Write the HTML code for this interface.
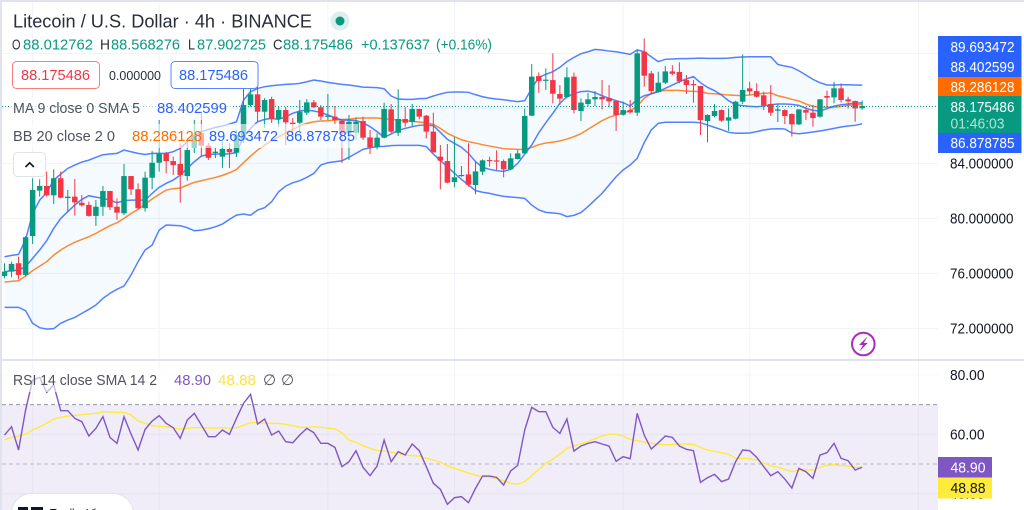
<!DOCTYPE html>
<html lang="en">
<head>
<meta charset="utf-8">
<title>Litecoin / U.S. Dollar chart</title>
<style>
html,body{margin:0;padding:0;background:#fff;width:1024px;height:510px;overflow:hidden}
svg{display:block;position:absolute;left:0;top:0;filter:blur(0.35px)}
text{font-family:"Liberation Sans",sans-serif}
</style>
</head>
<body>
<svg id="chart" width="1024" height="510" viewBox="0 0 1024 510" xmlns="http://www.w3.org/2000/svg">
  <defs>
    <clipPath id="mainClip"><rect x="2" y="2" width="936" height="357"/></clipPath>
    <clipPath id="rsiClip"><rect x="2" y="361" width="936" height="149"/></clipPath>
  </defs>
  <rect x="0" y="0" width="1024" height="510" fill="#ffffff"/>
  <g id="gridLayer"></g>
  <rect id="rsiBand" x="2" y="404" width="936" height="106" fill="#f0ecf8"/>
  <g id="rsiGridLayer"></g>
  <g id="mainLayer" clip-path="url(#mainClip)"></g>
  <g id="rsiLayer" clip-path="url(#rsiClip)"></g>

  <rect x="0" y="0" width="2" height="510" fill="#e0e3eb"/>
  <rect x="0" y="0" width="1024" height="2" fill="#e0e3eb"/>
  <rect x="0" y="359" width="1024" height="2" fill="#e0e3eb"/>

  <!-- legend fades -->
  <rect x="11" y="98" width="220" height="22" fill="#ffffff" fill-opacity="0.6"/>
  <rect x="11" y="124" width="347" height="24" fill="#ffffff" fill-opacity="0.6"/>
  <rect x="11" y="368" width="282" height="24" fill="#ffffff" fill-opacity="0.6"/>

  <!-- header -->
  <text x="13" y="27.5" font-size="18.500" fill="#2a2e39" textLength="299" lengthAdjust="spacingAndGlyphs">Litecoin / U.S. Dollar · 4h · BINANCE</text>
  <circle cx="340" cy="21" r="9.5" fill="#dcefec"/>
  <circle cx="340" cy="21" r="4.5" fill="#089981"/>

  <g font-size="14.500">
    <text x="12" y="49.5" fill="#2a2e39" textLength="8.5" lengthAdjust="spacingAndGlyphs">O</text>
    <text x="23" y="49.5" fill="#089981" textLength="70" lengthAdjust="spacingAndGlyphs">88.012762</text>
    <text x="100" y="49.5" fill="#2a2e39" textLength="10" lengthAdjust="spacingAndGlyphs">H</text>
    <text x="111" y="49.5" fill="#089981" textLength="69" lengthAdjust="spacingAndGlyphs">88.568276</text>
    <text x="188" y="49.5" fill="#2a2e39" textLength="7" lengthAdjust="spacingAndGlyphs">L</text>
    <text x="197" y="49.5" fill="#089981" textLength="69" lengthAdjust="spacingAndGlyphs">87.902725</text>
    <text x="273" y="49.5" fill="#2a2e39" textLength="9.5" lengthAdjust="spacingAndGlyphs">C</text>
    <text x="283" y="49.5" fill="#089981" textLength="70" lengthAdjust="spacingAndGlyphs">88.175486</text>
    <text x="361" y="49.5" fill="#089981" textLength="69" lengthAdjust="spacingAndGlyphs">+0.137637</text>
    <text x="436" y="49.5" fill="#089981" textLength="56" lengthAdjust="spacingAndGlyphs">(+0.16%)</text>
  </g>

  <rect x="12.5" y="61.5" width="87" height="27" rx="4" fill="#ffffff" stroke="#f77c80"/>
  <text x="21" y="80" font-size="14.500" fill="#f23645" textLength="69" lengthAdjust="spacingAndGlyphs">88.175486</text>
  <text x="109" y="80" font-size="13" fill="#2a2e39" textLength="52" lengthAdjust="spacingAndGlyphs">0.000000</text>
  <rect x="171" y="61.5" width="87" height="27" rx="4" fill="#ffffff" stroke="#5a83ff"/>
  <text x="179" y="80" font-size="14.500" fill="#2962ff" textLength="69" lengthAdjust="spacingAndGlyphs">88.175486</text>

  <text x="13" y="113" font-size="14.500" fill="#50535e" textLength="127" lengthAdjust="spacingAndGlyphs">MA 9 close 0 SMA 5</text>
  <text x="157" y="113" font-size="14.500" fill="#2962ff" textLength="70" lengthAdjust="spacingAndGlyphs">88.402599</text>

  <text x="13" y="141" font-size="14.500" fill="#50535e" textLength="102" lengthAdjust="spacingAndGlyphs">BB 20 close 2 0</text>
  <text x="132" y="141" font-size="14.500" fill="#ff6d00" textLength="70" lengthAdjust="spacingAndGlyphs">88.286128</text>
  <text x="209" y="141" font-size="14.500" fill="#2962ff" textLength="69" lengthAdjust="spacingAndGlyphs">89.693472</text>
  <text x="286" y="141" font-size="14.500" fill="#2962ff" textLength="69" lengthAdjust="spacingAndGlyphs">86.878785</text>

  <rect x="13.5" y="152.5" width="32" height="24" rx="4" fill="#ffffff" stroke="#e0e3eb"/>
  <path d="M25.5 167 L29.7 162.8 L33.9 167" fill="none" stroke="#131722" stroke-width="1.6"/>

  <text x="13" y="385" font-size="14.500" fill="#50535e" textLength="144" lengthAdjust="spacingAndGlyphs">RSI 14 close SMA 14 2</text>
  <text x="174" y="385" font-size="14.500" fill="#7e57c2" textLength="37" lengthAdjust="spacingAndGlyphs">48.90</text>
  <text x="218" y="385" font-size="14.500" fill="#ffe23b" textLength="38" lengthAdjust="spacingAndGlyphs">48.88</text>
  <text x="263" y="385" font-size="15" fill="#50535e">∅</text>
  <text x="281" y="385" font-size="15" fill="#50535e">∅</text>

  <!-- logo -->
  <rect x="11.5" y="493.5" width="122" height="40" rx="20" fill="#ffffff" stroke="#e0e3eb"/>
  <rect x="18" y="507" width="10" height="3" fill="#131722"/>
  <rect x="31" y="507" width="12" height="3" fill="#131722"/>
  <text x="50" y="522" font-size="18" fill="#131722" textLength="60" lengthAdjust="spacingAndGlyphs">TradingView</text>

  <!-- lightning -->
  <circle cx="863.3" cy="344" r="11.3" fill="#ffffff" stroke="#a92cbd" stroke-width="2"/>
  <path d="M867.5 336.5 L859 345 L863 345 L859.3 351.5 L867.8 343 L863.8 343 Z" fill="#a92cbd"/>

  <!-- price axis -->
  <g id="axisLayer"></g>
  <g>
    <rect x="938" y="36" width="83.500" height="21" fill="#2962ff"/>
    <rect x="938" y="57" width="83.500" height="20" fill="#2962ff"/>
    <rect x="938" y="77" width="83.500" height="19" fill="#ff6d00"/>
    <rect x="938" y="96" width="83.500" height="37" fill="#089981"/>
    <rect x="938" y="133" width="83.500" height="20" fill="#2962ff"/>
    <text x="950.500" y="52" font-size="14.500" fill="#ffffff" textLength="64" lengthAdjust="spacingAndGlyphs">89.693472</text>
    <text x="950.500" y="72" font-size="14.500" fill="#ffffff" textLength="64" lengthAdjust="spacingAndGlyphs">88.402599</text>
    <text x="950.500" y="92" font-size="14.500" fill="#ffffff" textLength="64" lengthAdjust="spacingAndGlyphs">88.286128</text>
    <text x="950.500" y="112" font-size="14.500" fill="#ffffff" textLength="64" lengthAdjust="spacingAndGlyphs">88.175486</text>
    <text x="950.500" y="128.500" font-size="14.500" fill="#b5e0d9" textLength="54" lengthAdjust="spacingAndGlyphs">01:46:03</text>
    <text x="950.500" y="148" font-size="14.500" fill="#ffffff" textLength="64" lengthAdjust="spacingAndGlyphs">86.878785</text>
    <rect x="938" y="457" width="54" height="20.500" fill="#7e57c2"/>
    <rect x="938" y="477.500" width="54" height="21" fill="#ffeb3b"/>
    <text x="950.500" y="472.500" font-size="14.500" fill="#ffffff" textLength="35" lengthAdjust="spacingAndGlyphs">48.90</text>
    <text x="950.500" y="493" font-size="14.500" fill="#131722" textLength="35" lengthAdjust="spacingAndGlyphs">48.88</text>
  </g>
</svg>
<script>
const opens = [75.81,76.13,76.74,75.89,78.72,82.02,82.36,81.68,82.92,81.48,
81.58,81.14,80.98,80.18,80.85,81.99,80.85,80.37,83.08,82.12,
80.74,82.96,84.05,84.73,84.17,83.96,83.08,85.12,86.21,85.29,
84.76,84.49,85.05,84.78,85.70,88.25,89.02,87.76,88.68,87.23,
87.88,86.96,86.96,87.69,88.44,88.08,87.40,87.40,87.10,86.19,
86.23,87.08,85.89,85.17,85.87,87.93,86.23,87.23,87.01,87.96,
87.47,86.31,84.49,84.17,82.65,83.08,83.20,82.43,83.40,84.25,
84.22,84.17,83.57,84.32,84.73,87.47,90.35,90.04,90.06,89.05,
88.83,90.31,87.81,88.32,88.66,88.83,88.75,88.54,87.54,87.88,
87.69,92.12,90.55,89.19,89.87,90.69,90.65,90.06,89.77,89.63,
87.08,87.45,87.88,87.11,87.25,88.49,89.46,89.26,88.95,88.32,
87.83,87.88,87.59,86.84,87.88,87.69,87.40,88.90,88.80,89.46,
88.66,88.54,88.01];
const highs = [76.74,76.85,77.22,78.72,82.92,82.84,83.40,83.57,83.40,82.07,
82.87,81.70,81.22,81.34,82.36,82.00,81.46,83.96,83.08,82.55,
83.40,84.90,87.16,84.85,84.49,85.46,85.70,87.16,87.66,85.48,
85.12,85.58,85.48,86.43,89.48,89.48,89.82,88.75,88.85,88.10,
88.10,87.30,88.61,88.68,88.61,88.25,89.05,88.17,87.16,87.52,
87.35,87.40,86.43,86.19,88.42,88.32,89.39,88.08,88.32,87.96,
87.52,87.69,85.34,85.41,85.89,83.81,85.46,84.13,84.29,84.49,
84.95,84.29,84.73,84.97,87.98,91.23,90.62,90.91,92.00,89.70,
90.99,90.60,88.73,89.14,89.26,90.06,89.70,88.61,88.49,88.61,
92.29,93.09,90.72,90.67,91.08,91.15,91.35,90.43,90.06,89.63,
87.57,88.32,87.93,88.00,88.56,91.93,89.94,89.82,89.22,89.70,
88.32,87.93,87.64,87.93,88.12,88.25,88.68,89.29,89.94,89.82,
88.85,88.56,88.57];
const lows = [75.65,75.72,75.57,75.81,78.14,81.58,81.58,81.05,81.46,80.49,
80.20,80.85,80.13,79.45,80.18,80.61,79.89,80.25,81.70,80.66,
80.49,82.12,83.40,83.28,83.16,81.14,82.74,84.76,84.49,84.25,
84.39,83.67,83.67,84.47,85.48,88.12,87.03,86.57,86.94,86.65,
85.34,86.06,86.28,87.52,88.03,87.16,87.16,86.86,84.03,84.25,
85.70,85.70,84.68,85.02,85.82,86.19,85.99,86.67,86.67,87.20,
85.82,84.80,82.11,82.55,82.26,83.03,82.31,81.75,83.16,83.76,
83.52,82.99,83.52,84.29,84.68,87.45,89.14,89.34,88.37,88.25,
88.73,87.64,87.08,88.12,88.17,87.93,88.08,86.36,87.47,87.64,
87.45,89.58,89.02,89.14,89.77,90.43,89.82,89.05,88.42,86.06,
85.53,87.35,87.03,86.36,87.20,88.32,88.97,88.80,87.88,87.45,
87.01,86.86,85.94,86.79,87.15,86.67,87.32,88.08,88.37,88.42,
88.00,87.03,87.90];
const closes = [76.13,76.69,75.89,78.63,82.07,82.36,81.68,82.92,81.51,81.58,
81.17,80.95,80.18,80.85,81.99,80.81,80.42,83.08,82.12,80.74,
82.96,84.05,84.73,84.17,83.88,83.16,84.97,86.06,85.29,84.41,
84.85,85.05,84.81,86.06,88.25,89.02,87.76,88.61,87.23,87.88,
86.99,86.86,87.76,88.44,88.08,87.40,87.47,87.16,86.19,87.03,
87.03,85.87,85.17,85.87,87.96,86.31,87.23,86.96,87.96,87.40,
86.31,84.80,84.20,82.60,82.99,83.16,82.45,83.42,84.22,84.17,
84.13,83.57,84.37,84.73,87.45,90.31,89.99,90.09,89.07,88.71,
90.26,87.88,88.42,88.66,88.83,88.66,88.51,87.52,87.88,87.71,
92.00,90.38,89.26,89.87,90.69,90.52,89.97,89.70,89.68,87.15,
87.52,87.81,87.11,87.35,88.49,89.34,89.24,88.85,88.22,87.69,
87.93,87.45,86.84,87.93,87.69,87.30,88.66,88.78,89.46,88.61,
88.51,88.00,88.18];
const bbUpper = [77.21,77.31,77.38,78.47,80.36,81.33,81.87,82.79,83.22,83.64,
83.88,84.10,84.24,84.44,84.63,84.68,84.73,84.97,84.85,84.73,
84.65,84.73,84.73,84.73,84.85,85.09,85.58,86.06,86.30,86.47,
86.62,86.72,86.86,87.03,88.61,89.21,89.45,89.58,89.65,89.70,
89.75,89.77,89.82,89.94,90.06,89.99,89.89,89.82,89.75,89.70,
89.63,89.55,89.53,89.51,89.43,88.90,88.68,88.66,88.66,88.71,
88.73,88.90,89.05,89.17,89.19,89.19,89.17,89.00,88.85,88.75,
88.68,88.63,88.56,88.49,88.56,89.46,90.26,90.48,90.67,90.99,
91.40,91.71,91.98,92.12,92.29,92.25,92.17,92.12,92.03,91.93,
92.25,92.12,91.76,91.40,91.57,91.59,91.62,91.62,91.64,91.66,
91.64,91.64,91.64,91.66,91.71,91.74,91.76,91.76,91.76,91.76,
91.20,91.08,90.99,90.74,90.43,90.11,89.87,89.70,89.70,89.72,
89.72,89.70,89.69];
const bbLower = [73.53,73.53,73.53,73.29,72.37,72.05,71.95,71.98,72.37,72.61,
72.80,73.09,73.38,73.70,74.18,74.55,74.84,75.08,75.88,76.85,
77.70,78.06,79.15,79.52,79.49,79.47,79.32,79.10,79.15,79.25,
79.39,79.59,79.93,80.24,80.32,80.22,80.61,80.78,81.21,81.94,
82.35,82.59,82.74,82.98,83.27,83.88,84.05,84.12,84.19,84.44,
84.73,85.02,85.14,85.22,85.24,85.29,85.31,85.31,85.31,85.31,
85.22,84.68,84.20,83.76,83.28,82.84,82.43,82.02,81.90,81.82,
81.70,81.60,81.56,81.51,81.46,80.97,80.61,80.44,80.39,80.34,
80.13,80.22,80.42,80.85,81.34,81.82,82.43,83.03,83.52,83.88,
84.37,85.51,86.43,86.91,86.99,86.99,86.99,86.99,86.99,86.96,
86.79,86.62,86.45,86.26,86.19,86.19,86.21,86.31,86.43,86.50,
86.52,86.50,86.21,86.16,86.21,86.28,86.36,86.45,86.55,86.65,
86.72,86.77,86.88];
const bbBasis = [75.37,75.42,75.47,75.81,76.20,76.53,76.85,77.33,77.70,78.01,
78.26,78.47,78.67,78.91,79.20,79.47,79.69,80.00,80.36,80.66,
81.04,81.41,81.75,82.06,82.16,82.21,82.42,82.62,82.74,82.86,
82.98,83.13,83.32,83.56,84.05,84.53,84.97,85.33,85.65,85.94,
86.23,86.47,86.72,86.91,87.03,87.08,87.10,87.15,87.20,87.20,
87.28,87.30,87.30,87.30,87.25,87.20,87.15,87.11,87.06,87.01,
86.94,86.84,86.55,86.19,85.94,85.72,85.58,85.48,85.36,85.26,
85.17,85.07,85.05,85.02,85.02,85.17,85.36,85.48,85.55,85.63,
85.77,85.94,86.16,86.48,86.79,87.11,87.35,87.52,87.66,87.83,
88.17,88.73,89.09,89.24,89.31,89.31,89.31,89.26,89.24,89.22,
89.09,89.07,89.02,88.97,88.95,88.92,88.97,89.05,89.09,89.12,
88.92,88.80,88.66,88.54,88.32,88.15,88.10,88.08,88.08,88.15,
88.22,88.27,88.29];
const maValues = [76.12,76.20,76.24,76.49,77.09,77.70,78.38,79.27,80.00,80.49,
80.97,81.38,81.65,81.55,81.46,81.33,81.14,81.29,81.33,81.33,
81.33,81.82,82.26,82.55,82.79,83.15,83.64,84.12,84.53,84.65,
84.68,84.68,84.70,84.78,85.94,86.55,87.03,87.20,87.27,87.20,
87.39,87.64,87.81,87.88,87.81,87.71,87.52,87.32,87.15,87.15,
87.11,86.96,86.67,86.31,85.89,86.14,86.40,86.55,86.67,86.77,
86.79,86.74,86.26,85.75,85.46,85.17,84.73,84.13,83.71,83.57,
83.47,83.42,83.57,84.00,84.68,85.34,86.23,86.96,87.64,88.37,
88.85,89.09,89.22,89.26,89.14,88.92,88.73,88.56,88.42,88.17,
88.66,88.92,89.05,89.22,89.46,89.70,89.94,90.14,90.31,89.87,
89.53,89.29,88.97,88.56,88.27,88.20,88.15,88.12,88.17,88.27,
88.32,88.32,88.29,88.22,88.00,87.86,87.81,87.98,88.17,88.27,
88.32,88.39,88.40];
const rsiValues = [59.75,62.56,54.71,68.17,78.27,79.17,74.12,76.59,67.95,67.95,
65.37,64.24,59.42,62.00,65.93,58.97,56.95,65.93,60.09,54.71,
61.66,64.47,66.26,63.68,62.22,58.63,64.80,67.05,63.12,59.19,
59.19,61.44,59.98,65.37,70.41,73.44,63.46,65.14,59.75,61.10,
57.51,57.17,59.75,62.00,60.54,56.95,56.95,55.60,49.10,50.78,
54.48,48.87,46.07,49.32,58.07,50.78,54.15,53.02,56.73,54.48,
49.10,43.49,41.47,36.42,38.66,39.00,36.98,41.80,45.95,45.95,
45.51,42.93,47.64,49.54,61.44,69.07,67.61,67.61,62.34,60.32,
65.14,54.37,56.05,56.95,57.51,56.73,56.05,50.89,52.46,51.79,
67.05,59.75,55.04,57.17,59.42,58.97,56.05,54.93,54.48,43.82,
45.39,46.52,44.05,44.94,50.78,54.71,54.48,52.24,49.10,46.07,
47.41,44.94,41.91,48.54,47.41,45.17,53.02,53.81,56.95,51.90,
51.12,47.97,48.90];
const rsiMaValues = [58.07,58.97,59.42,59.98,61.44,62.56,63.68,65.14,65.70,66.15,
66.37,66.60,66.82,67.05,67.61,67.50,67.38,67.38,66.49,64.58,
63.68,62.90,62.67,62.56,62.22,61.77,62.00,62.22,62.22,62.11,
62.11,62.22,62.11,62.22,63.01,63.91,63.91,63.79,63.68,63.68,
63.35,62.90,62.34,62.34,62.56,62.34,62.11,61.77,60.54,58.07,
57.29,56.16,55.27,54.48,54.37,54.03,53.47,53.02,52.80,52.69,
51.90,51.34,50.55,49.43,48.54,47.75,46.96,46.29,45.73,45.51,
45.17,44.38,43.49,43.15,44.05,46.07,48.20,50.22,51.68,53.36,
55.27,56.05,56.84,57.51,58.52,59.42,59.98,60.09,59.42,58.30,
57.85,57.40,56.95,56.73,56.50,56.61,56.73,56.73,56.61,55.60,
54.71,54.26,53.81,53.25,51.90,51.90,51.79,51.34,50.22,49.43,
48.87,48.20,47.41,47.97,47.97,47.97,48.87,49.54,49.77,49.43,
49.32,48.87,48.88];
const priceGridTicks = [92, 88, 84, 80, 76, 72];
const priceAxisLabels = [84, 80, 76, 72];
const rsiGridTicks = [80, 60, 40];
const rsiAxisLabels = [80, 60, 40];
const rsiDashedLevels = [70, 50];
const timeGridBars = [4, 22, 46, 64, 88, 106, 130];
const lastPrice = 88.175486;

const NS = 'http://www.w3.org/2000/svg';
function barX(i) { return 4.5 + 7.03 * i; }
function priceY(p) { return 163.4 + (84 - p) * 13.75; }
function rsiY(v) { return 434.3 + (60 - v) * 2.97; }
function make(tag, attrs, parent) {
  const el = document.createElementNS(NS, tag);
  for (const k in attrs) el.setAttribute(k, attrs[k]);
  parent.appendChild(el);
  return el;
}
function linePath(values, yFn) {
  return values.map((v, i) => (i ? 'L' : 'M') + barX(i).toFixed(2) + ' ' + yFn(v).toFixed(2)).join(' ');
}

const gridLayer = document.getElementById('gridLayer');
const rsiGridLayer = document.getElementById('rsiGridLayer');
const mainLayer = document.getElementById('mainLayer');
const rsiLayer = document.getElementById('rsiLayer');
const axisLayer = document.getElementById('axisLayer');

timeGridBars.forEach((b) => {
  const v = make('line', { x1: barX(b), x2: barX(b), y1: 2, y2: 510, stroke: '#f0f3fa' }, gridLayer);
  
  
});
priceGridTicks.forEach((t) => {
  const h = make('line', { x1: 2, x2: 938, y1: priceY(t), y2: priceY(t), stroke: '#f0f3fa' }, gridLayer);
  
  
});
rsiGridTicks.forEach((t) => {
  const h = make('line', { x1: 2, x2: 938, y1: rsiY(t), y2: rsiY(t), stroke: t === 80 ? '#f5f6fb' : '#e6e1f2' }, rsiGridLayer);
  
  
});
timeGridBars.forEach((b) => {
  const v = make('line', { x1: barX(b), x2: barX(b), y1: rsiY(70), y2: 510, stroke: '#e8e4f3' }, rsiGridLayer);
  
  
});
document.getElementById('rsiBand').setAttribute('y', rsiY(70));
rsiDashedLevels.forEach((t, idx) => {
  const d = make('line', { x1: 2, x2: 938, y1: rsiY(t), y2: rsiY(t), stroke: idx === 0 ? '#9598a1' : '#b8b9c2', 'stroke-dasharray': '4 3' }, rsiGridLayer);
  
  
});

const lowerRev = bbLower.map((v, i) => ({ v, i })).reverse();
const fillD = linePath(bbUpper, priceY) + ' ' + lowerRev.map((o) => 'L' + barX(o.i).toFixed(2) + ' ' + priceY(o.v).toFixed(2)).join(' ') + ' Z';
const bbFill = make('path', { d: fillD, fill: '#2196f3', 'fill-opacity': 0.05 }, mainLayer);



const upperLine = make('path', { d: linePath(bbUpper, priceY), fill: 'none', stroke: '#2962ff', 'stroke-opacity': 0.8, 'stroke-width': 1.5 }, mainLayer);


const lowerLine = make('path', { d: linePath(bbLower, priceY), fill: 'none', stroke: '#2962ff', 'stroke-opacity': 0.8, 'stroke-width': 1.5 }, mainLayer);


const basisLine = make('path', { d: linePath(bbBasis, priceY), fill: 'none', stroke: '#ff6d00', 'stroke-opacity': 0.8, 'stroke-width': 1.5 }, mainLayer);


const maLine = make('path', { d: linePath(maValues, priceY), fill: 'none', stroke: '#2962ff', 'stroke-opacity': 0.8, 'stroke-width': 1.5 }, mainLayer);



opens.forEach((open, i) => {
  const close = closes[i];
  const color = close >= open ? '#089981' : '#f23645';
  const x = barX(i);
  const wick = make('line', { x1: x, x2: x, y1: priceY(highs[i]), y2: priceY(lows[i]), stroke: color, 'stroke-width': 1 }, mainLayer);
  
  
  const top = priceY(Math.max(open, close));
  const h = Math.max(1.2, priceY(Math.min(open, close)) - top);
  const body = make('rect', { x: x - 2.75, y: top, width: 5.5, height: h, fill: color }, mainLayer);
  
  
});

const priceLine = make('line', { x1: 2, x2: 938, y1: priceY(lastPrice) + 0.5, y2: priceY(lastPrice) + 0.5, stroke: '#089981', 'stroke-dasharray': '1 2' }, mainLayer);



const rsiMaLine = make('path', { d: linePath(rsiMaValues, rsiY), fill: 'none', stroke: '#ffeb3b', 'stroke-width': 1.4 }, rsiLayer);


const rsiLine = make('path', { d: linePath(rsiValues, rsiY), fill: 'none', stroke: '#7e57c2', 'stroke-width': 1.4 }, rsiLayer);



priceAxisLabels.forEach((t) => {
  const lbl = make('text', { x: 950, y: priceY(t) + 5.2, 'font-size': 14.5, fill: '#131722', textLength: 63.5, lengthAdjust: 'spacingAndGlyphs' }, axisLayer);
  
  
  lbl.textContent = t.toFixed(6);
});
rsiAxisLabels.forEach((t) => {
  const lbl = make('text', { x: 950, y: rsiY(t) + 5.2, 'font-size': 14.5, fill: '#131722', textLength: 34.5, lengthAdjust: 'spacingAndGlyphs' }, axisLayer);
  
  
  lbl.textContent = t.toFixed(2);
});
</script>
</body>
</html>
